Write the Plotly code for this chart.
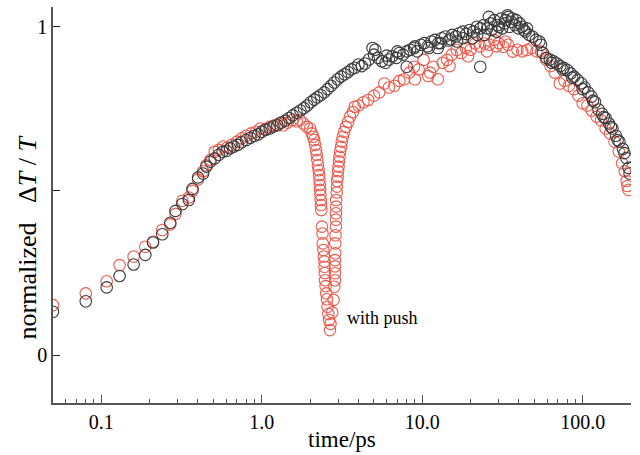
import plotly.graph_objects as go
import math

# ---- data ----
t_black = [0.050, 0.080, 0.108, 0.130, 0.159, 0.188, 0.210, 0.240, 0.269, 0.290,
           0.320, 0.351, 0.370, 0.401, 0.431, 0.452, 0.479, 0.509, 0.540, 0.570,
           0.603, 0.635, 0.67, 0.71, 0.75, 0.80, 0.85, 0.90, 0.95, 1.00,
           1.06, 1.12, 1.18, 1.25, 1.32, 1.40, 1.48, 1.56, 1.65, 1.74,
           1.83, 1.92, 2.02, 2.12, 2.22, 2.33, 2.45, 2.57, 2.70, 2.83,
           2.97, 3.12, 3.28, 3.45, 3.62, 3.80, 4.00, 4.20, 4.40, 4.65,
           4.90, 5.10, 5.30, 5.60, 5.90, 6.20, 6.50, 6.90, 7.20, 7.60,
           8.00, 8.00, 8.40, 8.90, 9.30, 9.80, 10.3, 10.8, 11.4, 12.0,
           12.6, 13.2, 13.9, 14.6, 15.4, 16.2, 17.0, 17.9, 18.8, 19.8,
           20.8, 21.9, 23.0, 23.0, 24.2, 25.4, 26.7, 28.1, 29.5, 31.0,
           32.6, 34.3, 36.0, 37.9, 39.8, 41.9, 44.0, 46.3, 48.6, 51.1,
           53.7, 56.5, 59.4, 62.4, 65.6, 69.0, 72.5, 76.2, 80.1, 84.2,
           88.5, 93.0, 97.8, 102.8, 108.0, 113.6, 119.4, 125.5, 132.0, 138.7,
           145.8, 153.3, 161.1, 169.4, 178.0, 187.0, 193.0, 196.0,
           5.0, 6.0, 7.0, 9.0, 11.0, 13.0, 15.0, 18.0, 22.0, 27.0,
           30.0, 33.0, 35.0, 38.5, 45.0, 55.0, 64.0, 75.0, 86.0, 100.0,
           116.0, 135.0, 150.0, 165.0, 182.0,
           12.5, 16.5, 20.5, 24.5, 26.0, 29.0, 31.5, 34.0, 36.5, 40.5, 43.0]
v_black = [0.132, 0.164, 0.206, 0.241, 0.276, 0.305, 0.343, 0.368, 0.403, 0.439,
           0.460, 0.472, 0.506, 0.541, 0.553, 0.574, 0.589, 0.599, 0.610, 0.619,
           0.622, 0.630, 0.635, 0.640, 0.648, 0.655, 0.662, 0.668, 0.672, 0.680,
           0.686, 0.690, 0.696, 0.700, 0.708, 0.714, 0.722, 0.730, 0.738, 0.745,
           0.752, 0.760, 0.770, 0.778, 0.785, 0.792, 0.800, 0.810, 0.820, 0.830,
           0.840, 0.848, 0.855, 0.862, 0.870, 0.875, 0.885, 0.880, 0.888, 0.900,
           0.935, 0.930, 0.905, 0.895, 0.890, 0.900, 0.910, 0.905, 0.920, 0.915,
           0.925, 0.878, 0.930, 0.935, 0.925, 0.945, 0.950, 0.940, 0.955, 0.960,
           0.950, 0.965, 0.970, 0.958, 0.975, 0.970, 0.980, 0.985, 0.978, 0.990,
           0.985, 1.000, 0.878, 0.995, 1.005, 0.995, 1.010, 1.020, 1.005, 1.025,
           1.010, 1.030, 1.015, 1.005, 0.995, 1.000, 0.985, 0.975, 0.970, 0.960,
           0.955, 0.920, 0.905, 0.900, 0.895, 0.888, 0.880, 0.875, 0.868, 0.858,
           0.848, 0.838, 0.828, 0.815, 0.800, 0.787, 0.770, 0.748, 0.735, 0.722,
           0.705, 0.690, 0.668, 0.650, 0.628, 0.600, 0.570, 0.553,
           0.915, 0.912, 0.925, 0.940, 0.935, 0.950, 0.962, 0.965, 0.975, 0.990,
           1.000, 1.020, 1.000, 1.020, 0.995, 0.945, 0.890, 0.870, 0.845, 0.810,
           0.775, 0.725, 0.695, 0.655, 0.615,
           0.935, 0.955, 0.965, 0.975, 1.030, 0.985, 0.995, 1.035, 1.025, 1.010, 0.990]

t_red = [0.050, 0.080, 0.108, 0.130, 0.159, 0.188, 0.210, 0.240, 0.269, 0.290,
         0.320, 0.351, 0.370, 0.401, 0.431, 0.452, 0.479, 0.509, 0.540, 0.575,
         0.61, 0.65, 0.70, 0.75, 0.80, 0.86, 0.92, 0.98, 1.05, 1.12,
         1.20, 1.28, 1.36, 1.45, 1.55, 1.65, 1.73, 1.82, 1.91, 2.00,
         2.05, 2.09, 2.12, 2.15, 2.18, 2.20, 2.22, 2.24, 2.26, 2.28,
         2.29, 2.30, 2.31, 2.32, 2.33, 2.34, 2.35, 2.37, 2.39, 2.40,
         2.42, 2.44, 2.46, 2.46, 2.47, 2.48, 2.50, 2.52, 2.55, 2.57,
         2.60, 2.63, 2.66, 2.68,
         2.75, 2.80, 2.83, 2.86, 2.86, 2.86, 2.86, 2.87, 2.87, 2.88,
         2.90, 2.90, 2.90, 2.91, 2.91, 2.93, 2.94, 2.95, 2.97, 2.99,
         3.01, 3.03, 3.05, 3.08, 3.12, 3.15, 3.20, 3.26, 3.35, 3.45,
         3.55, 3.70, 3.80,
         4.0, 4.3, 4.6, 5.0, 5.4, 5.8, 6.2, 6.7, 7.2, 7.7,
         8.3, 8.9, 9.5, 10.2, 10.9, 11.7, 12.5, 13.4, 14.3, 15.3,
         16.4, 17.5, 18.7, 20.0, 21.4, 22.9, 24.5, 26.2, 28.0, 30.0,
         32.0, 34.3, 36.7, 39.2, 42.0, 45.0, 48.0, 51.5, 55.0, 59.0,
         63.0, 67.0, 72.0, 77.0, 82.0, 88.0, 94.0, 100.0, 107.0, 114.0,
         122.0, 130.0, 139.0, 148.0, 158.0, 168.0, 176.0, 183.0, 188.0, 193.0,
         190.0,
         9.0, 11.2, 14.8, 19.3, 25.3, 29.0, 33.0]
v_red = [0.152, 0.188, 0.225, 0.274, 0.300, 0.330, 0.345, 0.381, 0.398, 0.430,
         0.470, 0.480, 0.500, 0.535, 0.560, 0.578, 0.595, 0.619, 0.625, 0.635,
         0.632, 0.640, 0.650, 0.660, 0.668, 0.675, 0.680, 0.690, 0.688, 0.695,
         0.700, 0.705, 0.700, 0.708, 0.716, 0.712, 0.716, 0.705, 0.695, 0.690,
         0.675, 0.665, 0.655, 0.640, 0.624, 0.610, 0.594, 0.578, 0.563, 0.548,
         0.533, 0.518, 0.503, 0.488, 0.472, 0.457, 0.442, 0.391, 0.370, 0.340,
         0.320, 0.300, 0.285, 0.269, 0.250, 0.228, 0.210, 0.188, 0.170, 0.147,
         0.125, 0.107, 0.076, 0.095,
         0.130, 0.168, 0.208, 0.228, 0.249, 0.270, 0.289, 0.310, 0.340, 0.365,
         0.391, 0.412, 0.432, 0.452, 0.472, 0.495, 0.513, 0.530, 0.543, 0.560,
         0.574, 0.590, 0.604, 0.620, 0.634, 0.650, 0.665, 0.680, 0.695, 0.710,
         0.726, 0.740, 0.756,
         0.760, 0.770, 0.777, 0.790, 0.800, 0.827, 0.815, 0.820, 0.835, 0.840,
         0.860, 0.878, 0.870, 0.899, 0.850, 0.878, 0.840, 0.890, 0.899, 0.915,
         0.929, 0.920, 0.935, 0.930, 0.949, 0.940, 0.949, 0.945, 0.960, 0.950,
         0.939, 0.945, 0.924, 0.930, 0.925, 0.929, 0.935, 0.925, 0.924, 0.900,
         0.880, 0.860, 0.827, 0.835, 0.820, 0.810, 0.790, 0.767, 0.760, 0.745,
         0.726, 0.715, 0.690, 0.675, 0.650, 0.620, 0.584, 0.560, 0.530, 0.503,
         0.515,
         0.840, 0.860, 0.880, 0.910, 0.925, 0.940, 0.955]

x_tick_vals = [0.1, 1, 10, 100]
x_tick_text = ["0.1", "1.0", "10.0", "100.0"]
x_minor_vals = [0.06, 0.07, 0.08, 0.09,
                0.2, 0.3, 0.4, 0.5, 0.6, 0.7, 0.8, 0.9,
                2, 3, 4, 5, 6, 7, 8, 9,
                20, 30, 40, 50, 60, 70, 80, 90, 200]
y_tick_vals = [0, 0.5, 1]
y_tick_text = ["0", "", "1"]

FONT = "Liberation Serif, Times New Roman, serif"
AXIS_COLOR = "#555555"

fig = go.Figure()
fig.add_trace(go.Scatter(
    x=t_red, y=v_red, mode="markers",
    marker=dict(symbol="circle-open", size=11.5, color="#ec5a4c",
                line=dict(width=1.1, color="#ec5a4c")),
    showlegend=False))
fig.add_trace(go.Scatter(
    x=t_black, y=v_black, mode="markers",
    marker=dict(symbol="circle-open", size=11.5, color="#3a3a3a",
                line=dict(width=1.1, color="#3a3a3a")),
    showlegend=False))

fig.update_layout(
    width=640, height=455,
    margin=dict(l=53, r=9, t=7, b=52),
    paper_bgcolor="white", plot_bgcolor="white",
    font=dict(family=FONT, color="black"),
    xaxis=dict(
        type="log", range=[math.log10(0.05), math.log10(200)],
        showline=True, linecolor=AXIS_COLOR, linewidth=1.5, mirror=False,
        showgrid=False, zeroline=False,
        tickmode="array", tickvals=x_tick_vals, ticktext=x_tick_text,
        ticks="inside", ticklen=8, tickwidth=1.2, tickcolor=AXIS_COLOR,
        tickfont=dict(family=FONT, size=20, color="black"),
        minor=dict(tickmode="array", tickvals=x_minor_vals, ticks="inside",
                   ticklen=4, tickwidth=1.1, tickcolor=AXIS_COLOR, showgrid=False),
    ),
    yaxis=dict(
        range=[-0.146, 1.06],
        showline=True, linecolor=AXIS_COLOR, linewidth=1.5, mirror=False,
        showgrid=False, zeroline=False,
        tickmode="array", tickvals=y_tick_vals, ticktext=y_tick_text,
        ticks="inside", ticklen=7, tickwidth=1.3, tickcolor="#222222",
        tickfont=dict(family=FONT, size=20, color="black"),
    ),
    annotations=[
        dict(text="time/ps", xref="paper", yref="paper", x=0.5, y=-0.093,
             xanchor="center", yanchor="middle", showarrow=False,
             font=dict(family=FONT, size=23, color="black")),
        dict(text="normalized&nbsp;&nbsp;&nbsp;Δ<i>T</i>&nbsp;/&nbsp;<i>T</i>",
             xref="paper", yref="paper", x=-0.044, y=0.417, textangle=-90,
             xanchor="center", yanchor="middle", showarrow=False,
             font=dict(family=FONT, size=26, color="black")),
        dict(text="with push", xref="x", yref="y", x=math.log10(3.3), y=0.113,
             xanchor="left", yanchor="middle", showarrow=False,
             font=dict(family=FONT, size=18, color="black")),
    ],
)

fig.write_html("out.html")
